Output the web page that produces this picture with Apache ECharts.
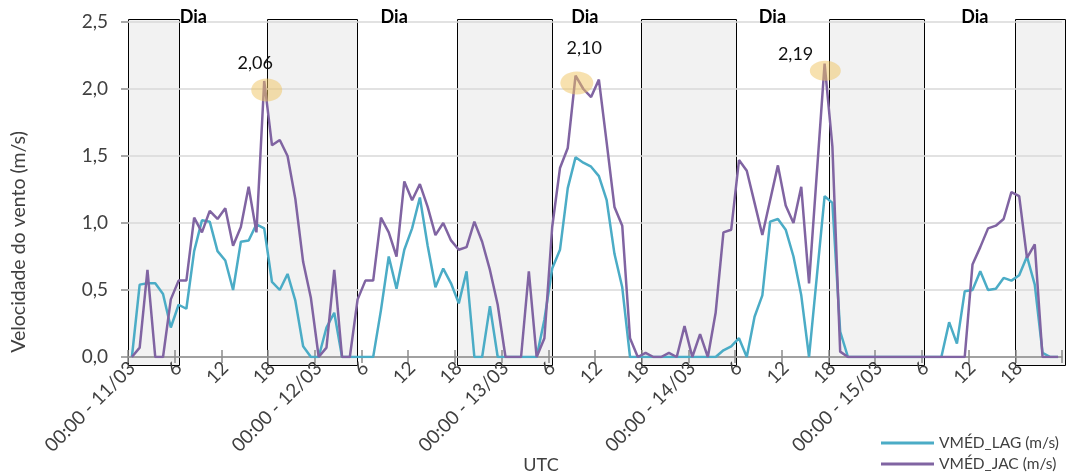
<!DOCTYPE html>
<html>
<head>
<meta charset="utf-8">
<script src="https://cdn.jsdelivr.net/npm/echarts@6/dist/echarts.min.js"></script>
<style>
html,body{margin:0;padding:0;background:#fff;}
#chart{width:1072px;height:472px;}
</style>
</head>
<body>
<div id="chart"></div>
<script>
// ---------- DATA ----------
const days = ['11/03', '12/03', '13/03', '14/03', '15/03'];
const hoursPerDay = 24;

const vmedLAG = [
  0, 0.54, 0.55, 0.55, 0.47, 0.22, 0.39, 0.36, 0.79, 1.02, 1.01, 0.79, 0.72, 0.50, 0.86, 0.87, 0.99, 0.96, 0.56, 0.50, 0.62, 0.42, 0.08, 0,
  0, 0.22, 0.33, 0, 0, 0, 0, 0, 0.35, 0.75, 0.51, 0.80, 0.96, 1.19, 0.83, 0.52, 0.66, 0.55, 0.40, 0.64, 0, 0, 0.38, 0,
  0, 0, 0, 0, 0, 0.28, 0.66, 0.80, 1.26, 1.49, 1.45, 1.42, 1.35, 1.17, 0.77, 0.52, 0, 0, 0, 0, 0, 0, 0, 0,
  0, 0, 0, 0, 0.05, 0.08, 0.14, 0, 0.30, 0.46, 1.01, 1.03, 0.95, 0.75, 0.46, 0, 0.60, 1.20, 1.15, 0.19, 0, 0, 0, 0,
  0, 0, 0, 0, 0, 0, 0, 0, 0, 0.26, 0.10, 0.49, 0.50, 0.64, 0.50, 0.51, 0.59, 0.57, 0.61, 0.75, 0.54, 0.03, 0, 0
];

const vmedJAC = [
  0, 0.07, 0.65, 0, 0, 0.43, 0.57, 0.57, 1.04, 0.93, 1.09, 1.03, 1.11, 0.83, 0.97, 1.27, 0.93, 2.06, 1.58, 1.62, 1.50, 1.18, 0.71, 0.44,
  0, 0.07, 0.65, 0, 0, 0.43, 0.57, 0.57, 1.04, 0.93, 0.75, 1.31, 1.17, 1.29, 1.12, 0.91, 1.00, 0.87, 0.80, 0.82, 1.01, 0.86, 0.65, 0.39,
  0, 0, 0, 0.64, 0, 0.14, 0.97, 1.41, 1.56, 2.10, 2.00, 1.94, 2.07, 1.60, 1.12, 0.98, 0.14, 0, 0.03, 0, 0, 0.03, 0, 0.23,
  0, 0.17, 0, 0.33, 0.93, 0.95, 1.47, 1.39, 1.15, 0.91, 1.17, 1.43, 1.13, 1.00, 1.27, 0.55, 1.37, 2.19, 1.57, 0.04, 0, 0, 0, 0,
  0, 0, 0, 0, 0, 0, 0, 0, 0, 0, 0, 0, 0.69, 0.82, 0.96, 0.98, 1.03, 1.23, 1.20, 0.74, 0.84, 0, 0, 0
];

// night periods (hours from 00:00 11/03), shaded boxes
const nightStart = [0, 17.9, 42.3, 65.9, 90.0, 113.9];
const nightEnd   = [6.6, 29.5, 54.5, 78.1, 102.2, 120.3];

// "Dia" labels (hour position)
const dayLabelText = 'Dia';
const dayLabelHours = [8.4, 34.2, 58.7, 82.8, 108.8];

// highlighted peaks of VMÉD_JAC (category index)
const peakIndex = [17, 57, 89];

const yTicks = [0, 0.5, 1.0, 1.5, 2.0, 2.5];

// ---------- BUILD ----------
const categories = [];
days.forEach(d => {
  for (let h = 0; h < hoursPerDay; h++) categories.push(h === 0 ? '00:00 - ' + d : String(h));
});
const fmt = (v, n) => v.toFixed(n).replace('.', ',');

// layout / style constants
const FONT = 'Lato';
const TXT = '#404040';
const AX = '#8c8c8c';
const BOX_TOP = 2.52, BOX_BOTTOM = -0.06, DAY_Y = 2.535;
const ELL_OFF = [[2.5, 9], [1.3, 7.4], [0.7, 7.2]];
const ELL_R = [[15.5, 11.5], [16.5, 11.5], [15.5, 10]];
const LBL_OFF = [[-9, -18], [8.6, -27.6], [-29, -9.5]];

const chart = echarts.init(document.getElementById('chart'), null, {renderer: 'canvas'});

const option = {
  animation: false,
  textStyle: {fontFamily: FONT},
  grid: {left: 128, right: 10, top: 22, bottom: 115, containLabel: false},
  xAxis: [
    {
      type: 'category', data: categories, boundaryGap: true, z: 2,
      axisLine: {onZero: false, lineStyle: {color: AX, width: 1.5}},
      axisTick: {show: true, interval: 5, length: 6, lineStyle: {color: AX, width: 1.5}},
      axisLabel: {interval: 5, rotate: 45, margin: 8, fontSize: 19, color: TXT, fontFamily: FONT},
      splitLine: {show: false}
    },
    {
      type: 'value', min: 0, max: 120, interval: 6, position: 'bottom', z: 2,
      axisLine: {show: false},
      axisLabel: {show: false},
      splitLine: {show: false},
      axisTick: {show: true, inside: true, length: 7, lineStyle: {color: AX, width: 1.5}}
    }
  ],
  yAxis: {
    type: 'value', min: yTicks[0], max: yTicks[yTicks.length - 1], interval: 0.5, z: 2,
    axisLine: {show: false},
    axisTick: {show: true, length: 7, lineStyle: {color: AX, width: 1.5}},
    axisLabel: {margin: 20, fontSize: 19, color: TXT, fontFamily: FONT, formatter: v => fmt(v, 1)},
    splitLine: {show: true, lineStyle: {color: '#d9d9d9', width: 1.5}}
  },
  legend: {
    orient: 'vertical', left: 881, top: 433, width: 190, height: 80, padding: 0,
    icon: 'rect', itemWidth: 53, itemHeight: 3, itemGap: 1,
    textStyle: {fontSize: 15.5, lineHeight: 20, color: TXT, fontFamily: FONT},
    data: ['VMÉD_LAG (m/s)', 'VMÉD_JAC (m/s)']
  },
  graphic: [
    {type: 'text', x: 19, y: 242, rotation: Math.PI / 2,
     style: {text: 'Velocidade do vento (m/s)', font: '19.5px ' + FONT, fill: TXT, align: 'center', verticalAlign: 'middle'}},
    {type: 'text', x: 541, y: 465,
     style: {text: 'UTC', font: '18px ' + FONT, fill: TXT, align: 'center', verticalAlign: 'middle'}}
  ],
  series: [
    {
      name: 'nights', type: 'custom', xAxisIndex: 1, yAxisIndex: 0, z: 1, silent: true,
      data: nightStart.map((s, i) => [s, nightEnd[i]]),
      encode: {x: [0, 1]},
      renderItem: (params, api) => {
        const a = api.coord([api.value(0), BOX_TOP]);
        const b = api.coord([api.value(1), BOX_BOTTOM]);
        return {
          type: 'rect',
          shape: {x: Math.round(a[0]) + 0.5, y: Math.round(a[1]) + 0.5, width: Math.round(b[0] - a[0]), height: Math.round(b[1] - a[1])},
          style: {fill: '#f2f2f2', stroke: '#000', lineWidth: 1}
        };
      }
    },
    {
      name: 'VMÉD_LAG (m/s)', type: 'line', data: vmedLAG, z: 3,
      symbol: 'none', showSymbol: false,
      lineStyle: {color: '#4bacc6', width: 2.5}, itemStyle: {color: '#4bacc6'}
    },
    {
      name: 'VMÉD_JAC (m/s)', type: 'line', data: vmedJAC, z: 3,
      symbol: 'none', showSymbol: false,
      lineStyle: {color: '#8064a2', width: 2.5}, itemStyle: {color: '#8064a2'}
    },
    {
      name: 'peaks', type: 'custom', xAxisIndex: 0, yAxisIndex: 0, z: 4, silent: true,
      data: peakIndex.map(i => [i, vmedJAC[i]]),
      renderItem: (params, api) => {
        const k = params.dataIndex;
        const p = api.coord([api.value(0), api.value(1)]);
        return {
          type: 'group',
          children: [
            {type: 'ellipse', shape: {cx: p[0] + ELL_OFF[k][0], cy: p[1] + ELL_OFF[k][1], rx: ELL_R[k][0], ry: ELL_R[k][1]},
             style: {fill: 'rgba(240,196,96,0.5)'}},
            {type: 'text', x: p[0] + LBL_OFF[k][0], y: p[1] + LBL_OFF[k][1],
             style: {text: fmt(api.value(1), 2), font: '18px ' + FONT, fill: '#111', align: 'center', verticalAlign: 'middle'}}
          ]
        };
      }
    },
    {
      name: 'dayLabels', type: 'custom', xAxisIndex: 1, yAxisIndex: 0, z: 4, silent: true,
      data: dayLabelHours.map(h => [h]),
      encode: {x: 0},
      renderItem: (params, api) => {
        const p = api.coord([api.value(0), DAY_Y]);
        return {type: 'text', x: p[0], y: p[1],
          style: {text: dayLabelText, font: 'bold 18px ' + FONT, fill: '#000', align: 'center', verticalAlign: 'middle'}};
      }
    }
  ]
};
chart.setOption(option);
</script>
</body>
</html>
